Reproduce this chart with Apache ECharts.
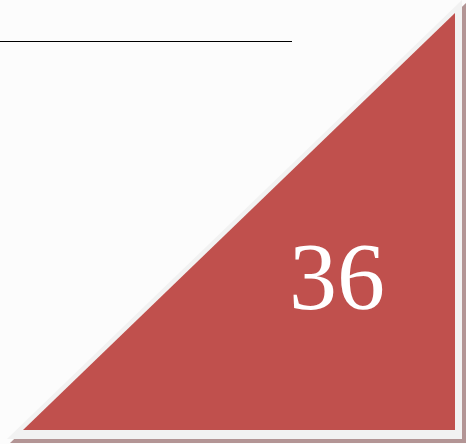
<!DOCTYPE html>
<html><head><meta charset="utf-8">
<script src="https://cdn.jsdelivr.net/npm/echarts@6/dist/echarts.min.js"></script>
<style>html,body{margin:0;padding:0;background:#fcfcfc}#c{width:466px;height:444px}</style>
</head><body><div id="c"></div>
<script>
// Value shown in the badge
const labels = ["36"];
// Shape layers in axis units (x: 0..466, y: 0..444, y down)
const shadowTri = [[10, 443], [466, 3], [466, 443]];
const frameTri = [[7, 439], [462, 0], [462, 439]];
const redTri = [[23, 430], [455, 13], [455, 430]];
const rule = [[0, 41.5], [292, 41.5]];
const labelPos = [[337, 236]];

const chart = echarts.init(document.getElementById('c'), null, {renderer: 'canvas'});
function polyItem(pts, fill) {
  return function (params, api) {
    return {type: 'polygon', shape: {points: pts.map(p => api.coord(p))}, style: {fill: fill}};
  };
}
chart.setOption({
  backgroundColor: '#fcfcfc',
  animation: false,
  grid: {left: 0, right: 0, top: 0, bottom: 0},
  xAxis: {type: 'value', min: 0, max: 466, show: false},
  yAxis: {type: 'value', min: 0, max: 444, inverse: true, show: false},
  series: [
    {type: 'custom', data: [0], renderItem: polyItem(shadowTri, '#b39595'), silent: true},
    {type: 'custom', data: [0], renderItem: polyItem(frameTri, '#f2f2f2'), silent: true},
    {type: 'custom', data: [0], renderItem: polyItem(redTri, '#c0504d'), silent: true},
    {type: 'line', data: rule, symbol: 'none', lineStyle: {color: '#000', width: 1.2}, silent: true},
    {type: 'custom', data: labelPos.map((p, i) => [p[0], p[1], labels[i]]),
     renderItem: function (params, api) {
       const pt = api.coord([api.value(0), api.value(1)]);
       return {type: 'text', x: pt[0], y: pt[1],
         style: {text: labels[params.dataIndex], fill: '#ffffff', font: '96px "Liberation Serif"', align: 'center', verticalAlign: 'top'}};
     }, silent: true}
  ]
});
</script></body></html>
